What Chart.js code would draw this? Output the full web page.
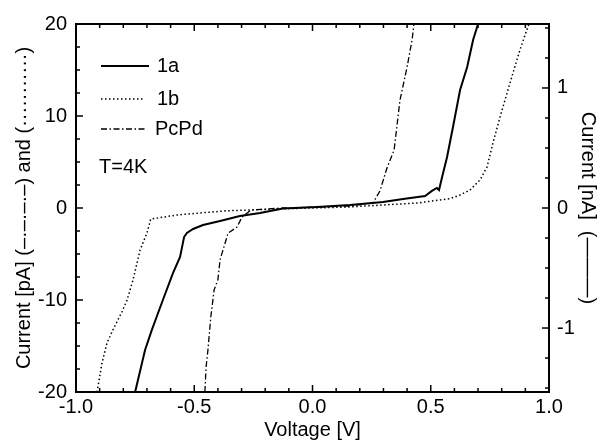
<!DOCTYPE html>
<html><head><meta charset="utf-8">
<script src="https://cdn.jsdelivr.net/npm/chart.js@4"></script>
<style>html,body{margin:0;padding:0;background:#fff}#wrap{width:606px;height:447px;position:relative}</style>
</head><body><div id="wrap"><canvas id="c" width="606" height="447"></canvas></div>
<script>
// ---- data ----
const volt1a = [-0.750,-0.708,-0.680,-0.653,-0.620,-0.590,-0.560,-0.543,-0.531,-0.505,-0.463,-0.391,-0.307,-0.222,-0.125,0.019,0.159,0.298,0.383,0.476,0.505,0.526,0.535,0.548,0.569,0.594,0.624,0.654,0.679,0.700];
const curr1a = [-1.533,-1.183,-1.02,-0.875,-0.700,-0.542,-0.408,-0.242,-0.208,-0.175,-0.142,-0.108,-0.067,-0.042,-0.005,0.008,0.025,0.05,0.075,0.1,0.142,0.167,0.15,0.258,0.425,0.675,0.983,1.175,1.4,1.533]; // nA
const volt1b = [-0.911,-0.890,-0.869,-0.844,-0.806,-0.784,-0.759,-0.729,-0.700,-0.684,-0.573,-0.476,-0.362,-0.264,-0.15,0.0,0.159,0.298,0.442,0.539,0.580,0.624,0.666,0.708,0.738,0.763,0.793,0.835,0.877,0.915];
const curr1b = [-20,-16.85,-14.67,-13.26,-11.30,-10.0,-7.83,-4.57,-2.72,-1.2,-0.76,-0.54,-0.3,-0.22,-0.1,0,0.11,0.33,0.54,0.87,1.0,1.41,1.96,3.04,4.46,7.07,9.89,13.59,17.17,20]; // pA
const voltPcPd = [-0.455,-0.450,-0.442,-0.430,-0.416,-0.400,-0.391,-0.357,-0.319,-0.298,-0.260,-0.125,0.019,0.159,0.256,0.285,0.315,0.345,0.370,0.400,0.421,0.429];
const currPcPd = [-20,-17.3,-15.4,-11.85,-8.9,-7.8,-5.65,-2.72,-2.07,-0.98,-0.22,0,0.1,0.22,0.54,1.85,4.35,6.3,11.74,15.33,18.26,20]; // pA
const seriesNames = ['1a','1b','PcPd'];
const annotationText = 'T=4K';
const xTitle = 'Voltage [V]';
const yLeftTitle = 'Current [pA] (–·–·–·–) and (···········)';
const yRightTitle = 'Current [nA]  (———)';

const FONT = "'Liberation Sans', Arial, Helvetica, sans-serif";
Chart.defaults.font.family = FONT;
Chart.defaults.font.size = 20;
Chart.defaults.color = '#000';

const pts = (xs, ys) => xs.map((v, i) => ({x: v, y: ys[i]}));
const dashes = {solid: [], dot: [1.5, 2.5], dashdot: [6, 2.5, 1.5, 2.5]};

const frameTicks = {
  id: 'frameTicks',
  afterDraw(chart) {
    const {ctx, chartArea: {left, right, top, bottom}, scales: {x, y, y2}} = chart;
    ctx.save();
    ctx.strokeStyle = '#000';
    ctx.lineWidth = 1.5;
    const line = (a, b, c, d) => { ctx.beginPath(); ctx.moveTo(a, b); ctx.lineTo(c, d); ctx.stroke(); };
    for (let i = -10; i <= 10; i++) {
      const px = x.getPixelForValue(i / 10);
      const len = i % 5 === 0 ? 7 : 4;
      line(px, bottom, px, bottom - len);
      line(px, top, px, top + len);
    }
    for (let i = -8; i <= 8; i++) {
      const py = y.getPixelForValue(i * 2.5);
      const len = i % 4 === 0 ? 7 : 4;
      line(left, py, left + len, py);
    }
    for (let i = -6; i <= 6; i++) {
      const py = y2.getPixelForValue(i * 0.25);
      const len = i % 4 === 0 ? 7 : 4;
      line(right, py, right - len, py);
    }
    ctx.lineWidth = 2;
    ctx.strokeRect(left, top, right - left, bottom - top);
    // legend inside plot
    ctx.font = '20px ' + FONT;
    ctx.fillStyle = '#000';
    ctx.textBaseline = 'middle';
    const ds = chart.data.datasets;
    const rows = [{y: 66, x1: 101, x2: 149, tx: 157}, {y: 99, x1: 101, x2: 145, tx: 157}, {y: 129, x1: 101, x2: 145, tx: 155}];
    rows.forEach((r, i) => {
      ctx.save();
      ctx.lineWidth = ds[i].borderWidth;
      ctx.setLineDash(ds[i].borderDash);
      line(r.x1, r.y, r.x2, r.y);
      ctx.restore();
      ctx.fillText(seriesNames[i], r.tx, r.y);
    });
    ctx.fillText(annotationText, 99, 167);
    ctx.restore();
  }
};

new Chart(document.getElementById('c'), {
  type: 'line',
  data: {
    datasets: [
      {label: seriesNames[0], data: pts(volt1a, curr1a), yAxisID: 'y2', borderColor: '#000', borderWidth: 2, borderDash: dashes.solid},
      {label: seriesNames[1], data: pts(volt1b, curr1b), yAxisID: 'y', borderColor: '#000', borderWidth: 1.5, borderDash: dashes.dot},
      {label: seriesNames[2], data: pts(voltPcPd, currPcPd), yAxisID: 'y', borderColor: '#000', borderWidth: 1.3, borderDash: dashes.dashdot}
    ]
  },
  options: {
    responsive: false,
    animation: false,
    devicePixelRatio: 1,
    parsing: true,
    elements: {point: {radius: 0}, line: {tension: 0, fill: false}},
    layout: {padding: {top: 24, left: 0, right: 0, bottom: 0}},
    plugins: {legend: {display: false}, tooltip: {enabled: false}},
    scales: {
      x: {
        type: 'linear', min: -1, max: 1,
        ticks: {stepSize: 0.5, padding: 3, callback: v => v.toFixed(1), maxRotation: 0},
        grid: {display: false, drawTicks: false},
        border: {display: false},
        title: {display: true, text: xTitle, padding: {top: 0, bottom: 5}},
        afterFit: s => { s.height = 55; }
      },
      y: {
        type: 'linear', position: 'left', min: -20, max: 20,
        ticks: {stepSize: 10, padding: 9},
        grid: {display: false, drawTicks: false},
        border: {display: false},
        title: {display: true, text: yLeftTitle, padding: {top: 12, bottom: 0}},
        afterFit: s => { s.width = 76; }
      },
      y2: {
        type: 'linear', position: 'right', min: -1.533, max: 1.533,
        ticks: {stepSize: 1, padding: 8},
        afterBuildTicks: s => { s.ticks = s.ticks.filter(t => Number.isInteger(t.value)); },
        grid: {display: false, drawTicks: false},
        border: {display: false},
        title: {display: true, text: yRightTitle, padding: {top: 6, bottom: 0}},
        afterFit: s => { s.width = 57; }
      }
    }
  },
  plugins: [frameTicks]
});
</script></body></html>
